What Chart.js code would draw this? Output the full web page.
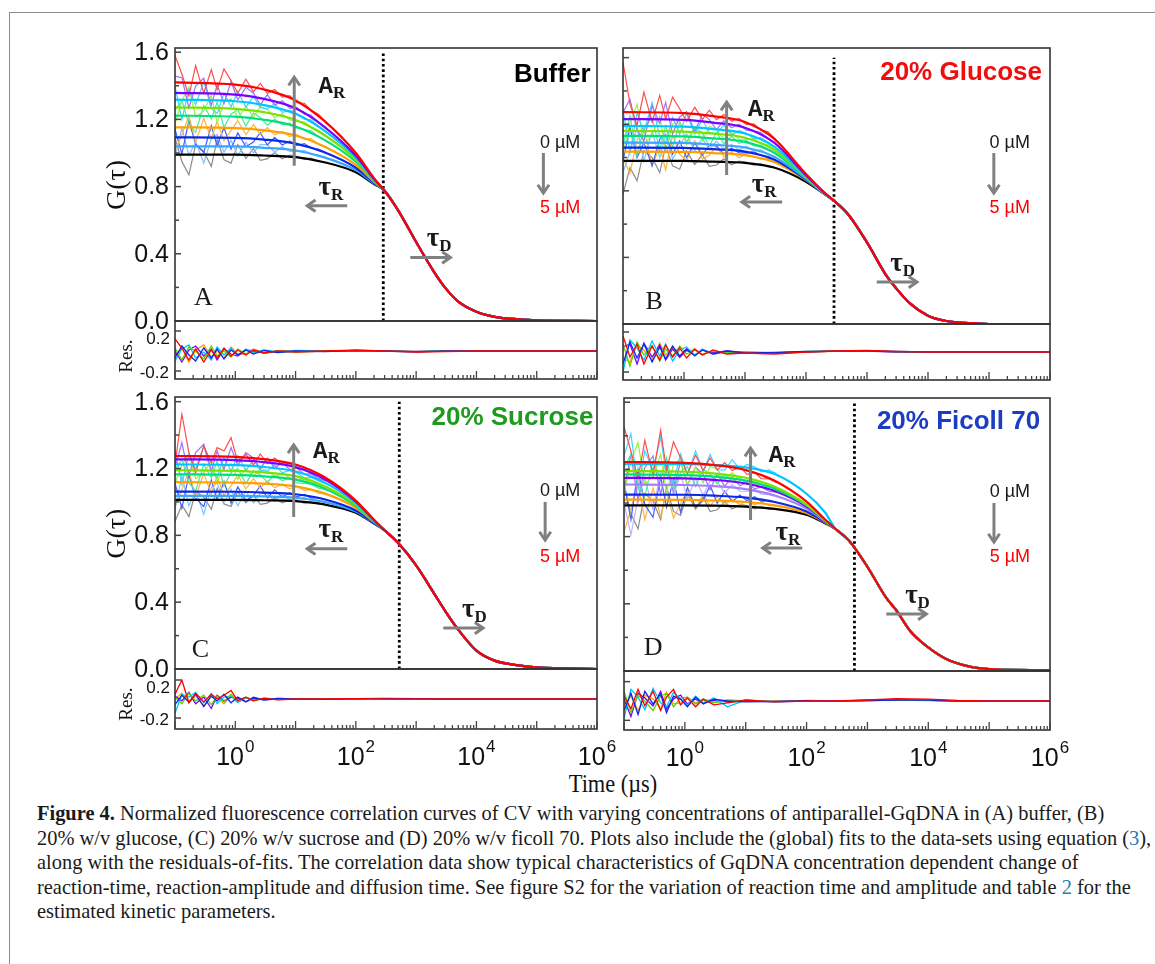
<!DOCTYPE html>
<html>
<head>
<meta charset="utf-8">
<script src="https://cdn.jsdelivr.net/npm/chart.js@4.4.1/dist/chart.umd.min.js"></script>
<style>
body { margin: 0; background: #fff; }
#page { position: relative; width: 1155px; height: 964px; overflow: hidden; background: #fff; }
#frame { position: absolute; left: 9px; top: 12px; width: 1200px; height: 1000px; border-left: 1.5px solid #8c8c8c; border-top: 1.5px solid #8c8c8c; }
canvas { position: absolute; }
#xtitle { position: absolute; left: 513px; top: 769px; width: 200px; text-align: center; font: 26px "Liberation Serif"; color: #111; transform: scaleX(0.86); }
#caption { position: absolute; left: 37px; top: 801px; font: 22px/24.5px "Liberation Serif"; color: #1a1a1a; white-space: nowrap; transform-origin: 0 0; transform: scaleX(0.928); }
#caption a { color: #2a7ab5; text-decoration: none; }
</style>
</head>
<body>
<div id="page">
<div id="frame"></div>
<div id="xtitle">Time (µs)</div>
<div id="caption"><b>Figure 4.</b> Normalized fluorescence correlation curves of CV with varying concentrations of antiparallel-GqDNA in (A) buffer, (B)<br>20% w/v glucose, (C) 20% w/v sucrose and (D) 20% w/v ficoll 70. Plots also include the (global) fits to the data-sets using equation (<a>3</a>),<br>along with the residuals-of-fits. The correlation data show typical characteristics of GqDNA concentration dependent change of<br>reaction-time, reaction-amplitude and diffusion time. See figure S2 for the variation of reaction time and amplitude and table <a>2</a> for the<br>estimated kinetic parameters.</div>
</div>
<script>
// time grids (µs)
var headTau = [0.1, 1, 3, 10, 30, 100, 200];
var tailTau = [300, 500, 1000, 2000, 3000, 5000, 10000, 20000, 50000, 100000, 1000000];
var dataTau = [0.1, 0.13, 0.17, 0.22, 0.3, 0.4, 0.5, 0.65, 0.85, 1.1, 1.5, 2, 2.6, 3.4, 4.5, 6, 8, 10.5, 14, 18, 24, 32];
var resTau = [0.1, 0.13, 0.17, 0.22, 0.3, 0.4, 0.5, 0.65, 0.85, 1.1, 1.5, 2, 3, 5, 10, 30, 100, 300, 1000, 3000, 10000, 30000, 100000, 1000000];

// ---- panel A : buffer (red, purple, cyan, green, spring, orange, blue, sky, black)
var fitHeadA = [
  [1.420, 1.407, 1.378, 1.313, 1.191, 1.000, 0.850],
  [1.358, 1.347, 1.322, 1.266, 1.156, 0.984, 0.845],
  [1.318, 1.308, 1.285, 1.233, 1.133, 0.973, 0.842],
  [1.272, 1.263, 1.243, 1.197, 1.107, 0.961, 0.839],
  [1.223, 1.216, 1.198, 1.158, 1.078, 0.948, 0.835],
  [1.153, 1.148, 1.135, 1.104, 1.039, 0.929, 0.829],
  [1.093, 1.090, 1.080, 1.056, 1.004, 0.912, 0.823],
  [1.040, 1.039, 1.031, 1.015, 0.974, 0.898, 0.819],
  [0.990, 0.990, 0.985, 0.975, 0.945, 0.885, 0.815]];
var fitTailA = [0.775, 0.66, 0.47, 0.29, 0.20, 0.115, 0.055, 0.025, 0.01, 0.004, 0.0];
var dataA = [
  [1.58, 1.47, 1.34, 1.52, 1.356, 1.496, 1.376, 1.501, 1.431, 1.357, 1.439, 1.364, 1.414, 1.354, 1.378, 1.333, 1.341, 1.299, 1.296, 1.254, 1.230, 1.184],
  [1.458, 1.448, 1.268, 1.398, 1.445, 1.285, 1.405, 1.295, 1.425, 1.317, 1.391, 1.356, 1.287, 1.348, 1.285, 1.311, 1.266, 1.271, 1.231, 1.226, 1.182, 1.150],
  [1.398, 1.198, 1.378, 1.288, 1.425, 1.265, 1.235, 1.355, 1.275, 1.368, 1.272, 1.337, 1.270, 1.262, 1.294, 1.242, 1.253, 1.235, 1.201, 1.197, 1.161, 1.127],
  [1.172, 1.312, 1.392, 1.212, 1.252, 1.342, 1.182, 1.302, 1.322, 1.204, 1.278, 1.214, 1.277, 1.260, 1.210, 1.234, 1.197, 1.189, 1.185, 1.155, 1.136, 1.101],
  [1.253, 1.313, 1.173, 1.123, 1.283, 1.203, 1.303, 1.153, 1.233, 1.256, 1.161, 1.237, 1.211, 1.166, 1.201, 1.167, 1.178, 1.148, 1.141, 1.132, 1.097, 1.074],
  [1.013, 1.108, 1.223, 1.063, 1.208, 1.083, 1.188, 1.073, 1.133, 1.193, 1.109, 1.169, 1.110, 1.151, 1.108, 1.128, 1.097, 1.111, 1.081, 1.085, 1.052, 1.035],
  [1.143, 0.993, 1.193, 1.053, 1.003, 1.163, 1.043, 1.153, 1.023, 1.120, 1.037, 1.065, 1.121, 1.048, 1.093, 1.048, 1.071, 1.045, 1.056, 1.030, 1.024, 1.001],
  [0.970, 1.150, 0.985, 1.067, 0.940, 1.085, 1.110, 1.005, 1.075, 0.984, 1.063, 1.000, 1.051, 1.049, 1.005, 1.037, 1.010, 1.009, 1.016, 0.995, 0.987, 0.971],
  [1.09, 0.95, 0.87, 1.05, 1.01, 0.92, 1.08, 0.96, 0.94, 1.05, 0.968, 1.027, 0.956, 0.965, 1.003, 0.966, 0.988, 0.980, 0.962, 0.970, 0.951, 0.943]];
var resA = [
  [0.12, 0.03, -0.09, 0.02, -0.11, 0.01, -0.07, 0.03, -0.05, 0.01, -0.04, 0.01, -0.02, 0.0, -0.01, 0.0, 0.008, 0.0, -0.01, -0.005, 0.0, 0.0, 0.0, 0.0],
  [-0.07, 0.05, -0.04, -0.10, 0.03, -0.07, 0.02, -0.08, 0.01, -0.04, 0.01, -0.03, 0.005, -0.015, 0.0, -0.005, 0.005, 0.0, -0.008, 0.0, 0.0, 0.0, 0.0, 0.0],
  [0.03, -0.09, 0.04, 0.0, -0.08, 0.05, -0.05, 0.0, -0.06, 0.02, -0.03, 0.01, -0.02, 0.0, -0.01, 0.0, 0.006, 0.0, -0.006, 0.0, 0.0, 0.0, 0.0, 0.0],
  [-0.10, 0.02, 0.06, -0.07, -0.01, -0.09, 0.04, -0.04, 0.03, -0.04, 0.02, -0.02, 0.01, -0.01, 0.0, 0.004, 0.004, -0.004, -0.006, 0.0, 0.003, 0.0, 0.0, 0.0],
  [0.0, -0.11, 0.01, 0.05, -0.05, 0.02, -0.09, 0.02, -0.03, -0.05, 0.01, 0.0, -0.02, 0.0, -0.005, -0.004, 0.005, 0.0, -0.005, 0.0, 0.0, 0.0, 0.0, 0.0],
  [-0.05, 0.03, -0.11, 0.01, 0.06, -0.06, 0.0, -0.07, 0.04, -0.03, -0.03, 0.02, -0.015, -0.005, 0.005, 0.0, 0.004, 0.0, -0.004, 0.0, 0.0, 0.0, 0.0, 0.0]];

// ---- panel B : 20% glucose (red, purple, cyan, green, spring, sky, blue, orange, black)
var fitHeadB = [
  [1.273, 1.267, 1.249, 1.214, 1.114, 0.901, 0.789],
  [1.231, 1.226, 1.210, 1.179, 1.089, 0.894, 0.788],
  [1.190, 1.186, 1.171, 1.144, 1.065, 0.888, 0.787],
  [1.160, 1.156, 1.144, 1.119, 1.047, 0.883, 0.785],
  [1.130, 1.127, 1.115, 1.094, 1.029, 0.879, 0.785],
  [1.090, 1.088, 1.077, 1.060, 1.005, 0.872, 0.783],
  [1.060, 1.058, 1.050, 1.036, 0.988, 0.868, 0.782],
  [1.035, 1.034, 1.027, 1.014, 0.973, 0.864, 0.782],
  [0.980, 0.980, 0.975, 0.968, 0.940, 0.855, 0.780]];
var fitTailB = [0.735, 0.655, 0.49, 0.30, 0.215, 0.125, 0.05, 0.018, 0.005, 0.0, -0.004];
var dataB = [
  [1.573, 1.323, 1.193, 1.393, 1.213, 1.373, 1.233, 1.363, 1.293, 1.217, 1.303, 1.229, 1.284, 1.228, 1.259, 1.219, 1.235, 1.198, 1.202, 1.166, 1.154, 1.109],
  [1.271, 1.351, 1.166, 1.101, 1.311, 1.205, 1.331, 1.141, 1.244, 1.276, 1.157, 1.258, 1.228, 1.168, 1.221, 1.179, 1.200, 1.164, 1.159, 1.151, 1.115, 1.084],
  [1.29, 1.03, 1.27, 1.15, 1.33, 1.125, 1.09, 1.24, 1.14, 1.265, 1.142, 1.229, 1.150, 1.144, 1.196, 1.136, 1.161, 1.146, 1.114, 1.119, 1.092, 1.060],
  [1.03, 1.21, 1.32, 1.08, 1.134, 1.25, 1.04, 1.20, 1.225, 1.077, 1.180, 1.101, 1.188, 1.169, 1.111, 1.150, 1.110, 1.109, 1.114, 1.085, 1.077, 1.043],
  [1.07, 1.25, 1.01, 1.18, 1.24, 1.045, 1.19, 1.06, 1.215, 1.092, 1.184, 1.147, 1.069, 1.150, 1.084, 1.128, 1.085, 1.102, 1.068, 1.075, 1.047, 1.026],
  [0.91, 1.035, 1.18, 0.98, 1.155, 1.00, 1.135, 0.99, 1.068, 1.143, 1.040, 1.116, 1.048, 1.099, 1.051, 1.079, 1.047, 1.068, 1.037, 1.047, 1.018, 1.002],
  [0.98, 1.18, 1.00, 1.09, 0.95, 1.11, 1.14, 1.02, 1.10, 0.999, 1.087, 1.015, 1.073, 1.070, 1.021, 1.057, 1.028, 1.028, 1.035, 1.012, 1.005, 0.985],
  [0.995, 0.905, 1.105, 1.175, 0.95, 1.065, 0.925, 1.135, 1.02, 0.979, 1.102, 0.991, 1.014, 1.066, 1.003, 1.034, 0.999, 1.022, 1.005, 0.990, 0.993, 0.970],
  [0.78, 0.94, 0.86, 1.04, 1.00, 0.91, 1.07, 0.95, 0.93, 1.04, 0.959, 1.018, 0.947, 0.955, 0.993, 0.956, 0.979, 0.971, 0.954, 0.962, 0.946, 0.938]];
var resB = [
  [0.16, -0.05, 0.08, -0.12, 0.06, -0.08, 0.07, -0.05, 0.04, -0.06, 0.03, -0.03, 0.02, -0.02, -0.01, -0.02, 0.0, 0.01, 0.015, 0.005, 0.0, 0.0, 0.0, 0.0],
  [-0.12, 0.10, -0.06, 0.08, -0.10, 0.05, -0.07, 0.06, -0.04, 0.03, -0.04, 0.02, -0.02, 0.01, -0.01, -0.005, 0.005, 0.008, 0.01, 0.005, 0.0, 0.0, 0.0, 0.0],
  [0.08, -0.14, 0.10, -0.03, 0.06, -0.09, 0.03, -0.04, 0.06, -0.02, 0.02, -0.03, 0.01, -0.01, 0.0, -0.01, 0.005, 0.01, 0.012, 0.003, 0.0, 0.0, 0.0, 0.0],
  [-0.20, 0.12, 0.04, -0.08, 0.11, -0.04, 0.08, -0.09, 0.02, 0.05, -0.03, 0.03, -0.02, 0.0, -0.01, -0.01, 0.003, 0.006, 0.008, 0.004, 0.0, -0.003, 0.0, 0.0],
  [0.05, 0.08, -0.12, 0.09, -0.05, 0.07, -0.08, 0.03, -0.05, 0.02, -0.03, 0.02, -0.01, 0.01, -0.005, -0.01, 0.0, 0.008, 0.01, 0.0, 0.0, 0.0, 0.0, 0.0],
  [-0.06, -0.10, 0.07, 0.02, -0.08, 0.09, -0.03, 0.05, -0.06, 0.01, 0.02, -0.02, 0.01, -0.01, 0.0, -0.008, 0.0, 0.006, 0.008, 0.002, 0.0, 0.0, 0.0, 0.0]];

// ---- panel C : 20% sucrose (red, purple, cyan, green, spring, orange, blue, sky, black)
var fitHeadC = [
  [1.275, 1.270, 1.256, 1.224, 1.149, 1.008, 0.893],
  [1.255, 1.250, 1.238, 1.208, 1.137, 1.002, 0.891],
  [1.225, 1.220, 1.209, 1.182, 1.117, 0.994, 0.888],
  [1.190, 1.186, 1.177, 1.154, 1.096, 0.985, 0.886],
  [1.165, 1.162, 1.153, 1.133, 1.081, 0.977, 0.883],
  [1.118, 1.116, 1.110, 1.093, 1.051, 0.965, 0.880],
  [1.062, 1.061, 1.056, 1.046, 1.016, 0.949, 0.874],
  [1.036, 1.036, 1.033, 1.025, 1.000, 0.942, 0.872],
  [1.012, 1.012, 1.010, 1.005, 0.985, 0.935, 0.870]];
var fitTailC = [0.83, 0.755, 0.62, 0.45, 0.35, 0.235, 0.11, 0.05, 0.022, 0.01, 0.0];
var dataC = [
  [1.225, 1.525, 1.295, 1.175, 1.335, 1.235, 1.325, 1.305, 1.385, 1.239, 1.285, 1.222, 1.287, 1.230, 1.263, 1.222, 1.233, 1.200, 1.197, 1.171, 1.160, 1.137],
  [1.205, 1.355, 1.155, 1.295, 1.345, 1.185, 1.305, 1.195, 1.325, 1.219, 1.295, 1.263, 1.198, 1.262, 1.204, 1.235, 1.194, 1.202, 1.166, 1.168, 1.141, 1.126],
  [1.305, 1.105, 1.285, 1.195, 1.335, 1.175, 1.145, 1.265, 1.185, 1.279, 1.186, 1.254, 1.189, 1.184, 1.222, 1.174, 1.189, 1.173, 1.144, 1.146, 1.125, 1.108],
  [1.11, 1.22, 1.29, 1.14, 1.174, 1.246, 1.12, 1.214, 1.23, 1.136, 1.199, 1.151, 1.201, 1.188, 1.151, 1.171, 1.143, 1.137, 1.135, 1.114, 1.106, 1.088],
  [1.195, 1.255, 1.115, 1.065, 1.225, 1.145, 1.245, 1.095, 1.175, 1.201, 1.108, 1.187, 1.163, 1.119, 1.159, 1.127, 1.142, 1.114, 1.111, 1.106, 1.083, 1.073],
  [0.978, 1.073, 1.188, 1.028, 1.173, 1.048, 1.153, 1.038, 1.098, 1.161, 1.078, 1.139, 1.083, 1.124, 1.085, 1.106, 1.078, 1.094, 1.068, 1.075, 1.053, 1.046],
  [1.112, 0.962, 1.162, 1.022, 0.972, 1.132, 1.012, 1.122, 0.992, 1.090, 1.009, 1.038, 1.096, 1.024, 1.072, 1.029, 1.055, 1.031, 1.045, 1.023, 1.026, 1.013],
  [0.956, 1.156, 0.976, 1.066, 0.926, 1.086, 1.116, 0.996, 1.076, 0.976, 1.064, 0.994, 1.053, 1.051, 1.005, 1.042, 1.014, 1.016, 1.027, 1.007, 1.005, 0.998],
  [0.882, 0.982, 0.912, 1.062, 1.028, 0.956, 1.082, 0.988, 0.972, 1.062, 0.995, 1.041, 0.986, 0.993, 1.024, 0.994, 1.012, 1.006, 0.993, 0.999, 0.987, 0.984]];
var resC = [
  [0.05, 0.20, -0.04, 0.06, -0.03, 0.05, 0.0, 0.04, 0.09, -0.02, 0.02, -0.02, 0.01, -0.01, 0.0, 0.0, 0.005, 0.0, 0.0, 0.0, 0.0, 0.0, 0.0, 0.0],
  [-0.06, 0.04, -0.03, 0.05, -0.08, 0.03, -0.02, 0.05, -0.04, 0.02, -0.03, 0.01, -0.01, 0.005, 0.0, -0.004, 0.004, 0.006, 0.004, 0.0, 0.0, 0.0, 0.0, 0.0],
  [0.02, -0.05, 0.06, -0.02, 0.04, -0.06, 0.03, -0.03, 0.05, -0.02, 0.02, -0.02, 0.01, 0.0, -0.005, 0.0, 0.003, 0.004, 0.0, 0.0, 0.0, 0.0, 0.0, 0.0],
  [-0.15, 0.05, 0.02, 0.07, -0.04, 0.06, -0.05, 0.02, 0.03, -0.04, 0.01, 0.0, -0.01, 0.005, 0.0, 0.0, 0.003, 0.005, 0.003, 0.0, -0.002, 0.0, 0.0, 0.0],
  [0.03, -0.02, 0.07, -0.05, 0.02, -0.10, 0.04, -0.02, 0.02, 0.01, -0.03, 0.02, -0.01, 0.0, 0.0, 0.0, 0.0, 0.004, 0.002, 0.0, 0.0, 0.0, 0.0, 0.0],
  [0.0, 0.06, -0.04, 0.03, -0.07, 0.04, 0.02, -0.05, 0.03, -0.01, 0.02, -0.01, 0.005, 0.0, 0.0, 0.0, 0.0, 0.0, 0.0, 0.0, 0.0, 0.0, 0.0, 0.0]];

// ---- panel D : 20% ficoll 70 (red, cyan, green, spring, purple, lavender, blue, orange, black)
var fitHeadD = [
  [1.244, 1.239, 1.226, 1.196, 1.132, 1.008, 0.903],
  [1.232, 1.231, 1.226, 1.212, 1.172, 1.055, 0.945],
  [1.190, 1.186, 1.176, 1.150, 1.097, 0.991, 0.898],
  [1.170, 1.166, 1.157, 1.133, 1.084, 0.986, 0.897],
  [1.150, 1.147, 1.138, 1.116, 1.071, 0.979, 0.895],
  [1.110, 1.107, 1.100, 1.083, 1.045, 0.967, 0.891],
  [1.050, 1.049, 1.044, 1.032, 1.006, 0.950, 0.886],
  [1.020, 1.019, 1.015, 1.006, 0.986, 0.940, 0.883],
  [0.986, 0.986, 0.984, 0.978, 0.965, 0.930, 0.880]];
var fitTailD = [0.845, 0.775, 0.62, 0.44, 0.36, 0.24, 0.14, 0.07, 0.025, 0.012, 0.005];
var dataD = [
  [1.454, 1.309, 1.144, 1.374, 1.164, 1.434, 1.194, 1.364, 1.27, 1.173, 1.285, 1.192, 1.268, 1.196, 1.241, 1.193, 1.216, 1.170, 1.182, 1.145, 1.144, 1.121],
  [1.282, 1.412, 1.082, 1.312, 1.192, 1.392, 1.162, 1.122, 1.292, 1.171, 1.310, 1.190, 1.289, 1.198, 1.196, 1.258, 1.200, 1.229, 1.215, 1.186, 1.197, 1.176],
  [1.05, 1.25, 1.36, 1.11, 1.16, 1.29, 1.06, 1.23, 1.26, 1.105, 1.213, 1.120, 1.217, 1.202, 1.136, 1.179, 1.136, 1.133, 1.139, 1.110, 1.108, 1.088],
  [1.21, 1.29, 1.105, 1.04, 1.25, 1.144, 1.27, 1.08, 1.183, 1.216, 1.099, 1.201, 1.171, 1.114, 1.168, 1.129, 1.150, 1.114, 1.114, 1.111, 1.084, 1.076],
  [1.08, 1.29, 1.01, 1.21, 1.28, 1.05, 1.22, 1.07, 1.25, 1.106, 1.214, 1.171, 1.079, 1.175, 1.100, 1.154, 1.103, 1.122, 1.084, 1.096, 1.070, 1.063],
  [1.00, 0.81, 1.03, 1.15, 0.96, 1.18, 1.22, 1.05, 1.17, 1.027, 1.146, 1.044, 1.132, 1.129, 1.060, 1.110, 1.070, 1.070, 1.082, 1.053, 1.050, 1.039],
  [1.125, 0.90, 1.20, 0.99, 0.915, 1.155, 0.975, 1.14, 0.945, 1.093, 0.973, 1.016, 1.105, 0.998, 1.071, 1.008, 1.048, 1.014, 1.038, 1.009, 1.016, 1.003],
  [0.83, 0.96, 1.12, 0.90, 1.09, 0.92, 1.07, 0.91, 0.996, 1.079, 0.968, 1.053, 0.980, 1.039, 0.989, 1.023, 0.990, 1.017, 0.988, 1.006, 0.984, 0.984],
  [1.106, 0.936, 0.846, 1.056, 1.01, 0.901, 1.096, 0.95, 0.926, 1.056, 0.962, 1.035, 0.949, 0.960, 1.007, 0.964, 0.992, 0.984, 0.965, 0.978, 0.963, 0.964]];
var resD = [
  [0.05, -0.08, 0.12, -0.05, 0.10, -0.10, 0.04, 0.12, -0.04, 0.03, -0.06, 0.02, -0.04, -0.02, 0.01, -0.01, 0.0, 0.0, 0.01, 0.025, 0.02, 0.005, 0.0, 0.0],
  [-0.10, 0.08, -0.14, 0.10, -0.03, 0.07, -0.12, 0.05, 0.02, -0.06, 0.04, -0.03, 0.02, 0.0, -0.01, -0.005, 0.003, 0.0, 0.005, 0.01, 0.008, 0.0, 0.0, 0.0],
  [0.10, -0.12, 0.06, 0.0, -0.10, 0.05, 0.08, -0.06, 0.03, 0.04, -0.03, 0.01, -0.02, 0.01, 0.0, -0.005, 0.0, 0.0, 0.006, 0.012, 0.01, 0.0, 0.0, 0.0],
  [-0.18, 0.12, 0.04, -0.09, 0.13, -0.02, -0.06, 0.09, 0.02, -0.04, 0.05, -0.02, 0.03, -0.06, 0.01, -0.01, 0.005, 0.0, 0.006, 0.012, 0.01, 0.0, -0.003, 0.0],
  [0.02, -0.16, 0.08, 0.03, -0.05, 0.10, -0.08, 0.02, 0.06, -0.03, 0.02, -0.02, 0.01, -0.01, 0.0, -0.008, 0.0, 0.0, 0.005, 0.01, 0.006, 0.0, 0.0, 0.0],
  [-0.04, 0.05, -0.10, 0.06, 0.02, -0.08, 0.09, -0.03, -0.02, 0.04, -0.02, 0.02, -0.01, 0.0, -0.005, 0.0, 0.0, 0.0, 0.004, 0.008, 0.004, 0.0, 0.0, 0.0]];

// colours (fit / raw data)
var RED = ['#ff0000', '#ff4d4d'], PURPLE = ['#7a00ff', '#a070ff'], CYAN = ['#00c4ff', '#40d4ff'],
    GREEN = ['#7ce000', '#9cf040'], SPRING = ['#00e07a', '#40eea0'], ORANGE = ['#ff9f00', '#ffb440'],
    BLUE = ['#0a28e6', '#4060ff'], SKY = ['#3aa4ff', '#80c4ff'], BLACK = ['#000000', '#8c8c8c'],
    LAVENDER = ['#a080ff', '#c4b0ff'];
var colsA = [RED, PURPLE, CYAN, GREEN, SPRING, ORANGE, BLUE, SKY, BLACK];
var colsB = [RED, PURPLE, CYAN, GREEN, SPRING, SKY, BLUE, ORANGE, BLACK];
var colsD = [RED, CYAN, GREEN, SPRING, PURPLE, LAVENDER, BLUE, ORANGE, BLACK];
var resCols = ['#ff0000', '#0a28e6', '#60d000', '#00c4ff', '#7a00ff', '#ff9f00'];

var panels = [
  { head: fitHeadA, tail: fitTailA, noisy: dataA, res: resA, cols: colsA,
    box: [175, 48, 597, 321], resBox: [321, 379], yMax: 1.625, rRange: [-0.28, 0.30],
    yLabels: true, xLabels: false, dot: 285,
    title: 'Buffer', titleColor: '#000', titleAt: [7.8e5, 1.464], letter: 'A', letterAt: [0.295, 0.137],
    arA: [9.5, 0.924, 1.451], arLab: [24, 1.40], trA: [0.686, 72, 15.6], trLab: [24, 0.79],
    tdA: [0.378, 800, 3700], tdLab: [1500, 0.49], mu: [2.45e5, 1.06, 1.29e5, 1.0, 0.762, 0.673] },
  { head: fitHeadB, tail: fitTailB, noisy: dataB, res: resB, cols: colsB,
    box: [623, 48, 1050, 324], resBox: [324, 380], yMax: 1.658, rRange: [-0.28, 0.28],
    yLabels: false, xLabels: false, dot: 288,
    title: '20% Glucose', titleColor: '#f20d0d', titleAt: [7.4e5, 1.51], letter: 'B', letterAt: [0.324, 0.132],
    arA: [5.0, 0.895, 1.333], arLab: [11.2, 1.29], trA: [0.733, 40.7, 8.9], trLab: [12.9, 0.835],
    tdA: [0.252, 1445, 6600], tdLab: [2400, 0.36], mu: [2.19e5, 1.087, 1.2e5, 1.027, 0.787, 0.697] },
  { head: fitHeadC, tail: fitTailC, noisy: dataC, res: resC, cols: colsA,
    box: [175, 397, 597, 669], resBox: [669, 729], yMax: 1.628, rRange: [-0.316, 0.316],
    yLabels: true, xLabels: true, dot: 525,
    title: '20% Sucrose', titleColor: '#1e9b1e', titleAt: [8.7e5, 1.503], letter: 'C', letterAt: [0.263, 0.114],
    arA: [9.3, 0.91, 1.341], arLab: [19.5, 1.305], trA: [0.719, 72, 15.6], trLab: [24, 0.832],
    tdA: [0.245, 2820, 12900], tdLab: [5750, 0.353], mu: [2.45e5, 1.066, 1.38e5, 1.0, 0.772, 0.671] },
  { head: fitHeadD, tail: fitTailD, noisy: dataD, res: resD, cols: colsD,
    box: [624, 398, 1050, 671], resBox: [671, 730], yMax: 1.625, rRange: [-0.30, 0.31],
    yLabels: false, xLabels: true, dot: 612,
    title: '20% Ficoll 70', titleColor: '#1c3cc4', titleAt: [6.9e5, 1.482], letter: 'D', letterAt: [0.30, 0.137],
    arA: [12, 0.899, 1.327], arLab: [24, 1.286], trA: [0.732, 85, 19], trLab: [31, 0.821],
    tdA: [0.339, 2040, 9300], tdLab: [4170, 0.446], mu: [2.19e5, 1.065, 1.2e5, 1.0, 0.768, 0.679] }
];

function makeCanvas(l, t, r, b, pad) {
  var c = document.createElement('canvas');
  var w = r - l + pad.left + pad.right, h = b - t + pad.top + pad.bottom;
  c.width = w; c.height = h;
  c.style.left = (l - pad.left) + 'px'; c.style.top = (t - pad.top) + 'px';
  c.style.width = w + 'px'; c.style.height = h + 'px';
  document.getElementById('page').appendChild(c);
  return c.getContext('2d');
}

function pts(xs, ys) {
  return xs.map(function (t, k) { return { x: t, y: ys[k] }; });
}

function arrow(ctx, x0, y0, x1, y1) {
  var a = Math.atan2(y1 - y0, x1 - x0), hl = 10, hw = 0.6;
  ctx.save();
  ctx.strokeStyle = '#808080'; ctx.lineWidth = 3; ctx.lineCap = 'butt'; ctx.lineJoin = 'miter';
  ctx.beginPath(); ctx.moveTo(x0, y0); ctx.lineTo(x1, y1); ctx.stroke();
  ctx.beginPath();
  ctx.moveTo(x1 - hl * Math.cos(a - hw), y1 - hl * Math.sin(a - hw));
  ctx.lineTo(x1, y1);
  ctx.lineTo(x1 - hl * Math.cos(a + hw), y1 - hl * Math.sin(a + hw));
  ctx.stroke();
  ctx.restore();
}

function subLabel(ctx, x, y, main, sub, mainFont, subFont) {
  ctx.textAlign = 'left'; ctx.textBaseline = 'alphabetic'; ctx.fillStyle = '#1a1a1a';
  ctx.font = mainFont; ctx.fillText(main, x, y + 7);
  var w = ctx.measureText(main).width;
  ctx.font = subFont; ctx.fillText(sub, x + w, y + 12);
}

function frame(ctx, a) {
  ctx.save();
  ctx.strokeStyle = '#333'; ctx.lineWidth = 1.6;
  ctx.strokeRect(a.left, a.top, a.right - a.left, a.bottom - a.top);
  ctx.restore();
}

function mainDeco(p) {
  return {
    id: 'mainDeco',
    beforeDatasetsDraw: function (chart) {
      var ctx = chart.ctx, xs = chart.scales.x, ys = chart.scales.y;
      var x = xs.getPixelForValue(p.dot);
      ctx.save();
      ctx.strokeStyle = '#000'; ctx.lineWidth = 2.8; ctx.setLineDash([2.6, 2.7]);
      ctx.beginPath(); ctx.moveTo(x, ys.getPixelForValue(0)); ctx.lineTo(x, ys.getPixelForValue(1.6)); ctx.stroke();
      ctx.restore();
    },
    afterDatasetsDraw: function (chart) {
      var ctx = chart.ctx, xs = chart.scales.x, ys = chart.scales.y, a = chart.chartArea;
      var X = function (v) { return xs.getPixelForValue(v); }, Y = function (v) { return ys.getPixelForValue(v); };
      frame(ctx, a);
      ctx.save();
      ctx.strokeStyle = '#444'; ctx.lineWidth = 1.5;
      for (var k = 0; k <= 8; k++) {
        var v = k * 0.2, len = (k % 2 === 0) ? 6 : 4;
        ctx.beginPath(); ctx.moveTo(a.left, Y(v)); ctx.lineTo(a.left + len, Y(v)); ctx.stroke();
      }
      if (p.yLabels) {
        ctx.fillStyle = '#111'; ctx.font = '25px "Liberation Sans"'; ctx.textAlign = 'right'; ctx.textBaseline = 'middle';
        for (var j = 0; j <= 4; j++) ctx.fillText((j * 0.4).toFixed(1), a.left - 6, Y(j * 0.4) + 1);
        ctx.save();
        ctx.translate(a.left - 57, Y(0.81)); ctx.rotate(-Math.PI / 2);
        ctx.font = '28px "Liberation Serif"'; ctx.textAlign = 'center'; ctx.textBaseline = 'middle';
        ctx.fillText('G(τ)', 0, 0);
        ctx.restore();
      }
      ctx.restore();
      // title
      ctx.save();
      ctx.font = 'bold 26px "Liberation Sans"'; ctx.fillStyle = p.titleColor; ctx.textAlign = 'right'; ctx.textBaseline = 'middle';
      ctx.fillText(p.title, X(p.titleAt[0]), Y(p.titleAt[1]));
      ctx.font = '26px "Liberation Serif"'; ctx.fillStyle = '#1a1a1a'; ctx.textAlign = 'center';
      ctx.fillText(p.letter, X(p.letterAt[0]), Y(p.letterAt[1]));
      // concentration arrow
      ctx.font = '18px "Liberation Sans"'; ctx.fillStyle = '#1a1a1a';
      ctx.fillText('0 µM', X(p.mu[0]), Y(p.mu[1]));
      ctx.fillStyle = '#f00';
      ctx.fillText('5 µM', X(p.mu[0]), Y(p.mu[5]));
      arrow(ctx, X(p.mu[2]), Y(p.mu[3]), X(p.mu[2]), Y(p.mu[4]));
      // amplitude / time arrows
      arrow(ctx, X(p.arA[0]), Y(p.arA[1]), X(p.arA[0]), Y(p.arA[2]));
      arrow(ctx, X(p.trA[1]), Y(p.trA[0]), X(p.trA[2]), Y(p.trA[0]));
      arrow(ctx, X(p.tdA[1]), Y(p.tdA[0]), X(p.tdA[2]), Y(p.tdA[0]));
      subLabel(ctx, X(p.arLab[0]), Y(p.arLab[1]), 'A', 'R', 'bold 24px "Liberation Mono"', 'bold 17px "Liberation Serif"');
      subLabel(ctx, X(p.trLab[0]), Y(p.trLab[1]), 'τ', 'R', 'bold 27px "Liberation Serif"', 'bold 17px "Liberation Serif"');
      subLabel(ctx, X(p.tdLab[0]), Y(p.tdLab[1]), 'τ', 'D', 'bold 27px "Liberation Serif"', 'bold 17px "Liberation Serif"');
      ctx.restore();
    }
  };
}

function resDeco(p) {
  return {
    id: 'resDeco',
    afterDatasetsDraw: function (chart) {
      var ctx = chart.ctx, xs = chart.scales.x, ys = chart.scales.y, a = chart.chartArea;
      frame(ctx, a);
      ctx.save();
      ctx.strokeStyle = '#444'; ctx.lineWidth = 1.5;
      [0.2, -0.2].forEach(function (v) {
        ctx.beginPath(); ctx.moveTo(a.left, ys.getPixelForValue(v)); ctx.lineTo(a.left + 6, ys.getPixelForValue(v)); ctx.stroke();
      });
      ctx.lineWidth = 1.3;
      for (var d = -1; d <= 6; d++) {
        for (var m = 1; m <= 9; m++) {
          var t = m * Math.pow(10, d);
          if (t > 1e6 * 1.0001) break;
          var x = xs.getPixelForValue(t), len = (m === 1) ? 8 : 4;
          ctx.beginPath(); ctx.moveTo(x, a.bottom); ctx.lineTo(x, a.bottom - len); ctx.stroke();
        }
      }
      if (p.yLabels) {
        ctx.fillStyle = '#111'; ctx.font = '17px "Liberation Sans"'; ctx.textAlign = 'right'; ctx.textBaseline = 'middle';
        ctx.fillText('0.2', a.left - 5, ys.getPixelForValue(0.2) + 8);
        ctx.fillText('-0.2', a.left - 6, ys.getPixelForValue(-0.2) + 2);
        ctx.save();
        ctx.translate(a.left - 48, ys.getPixelForValue(0) + 5); ctx.rotate(-Math.PI / 2);
        ctx.font = '19px "Liberation Serif"'; ctx.textAlign = 'center'; ctx.textBaseline = 'middle';
        ctx.fillText('Res.', 0, 0);
        ctx.restore();
      }
      if (p.xLabels) {
        ctx.fillStyle = '#111'; ctx.textBaseline = 'alphabetic'; ctx.textAlign = 'left';
        [0, 2, 4, 6].forEach(function (e) {
          var x = xs.getPixelForValue(Math.pow(10, e));
          ctx.font = '25px "Liberation Sans"';
          var w1 = ctx.measureText('10').width;
          ctx.font = '17px "Liberation Sans"';
          var w2 = ctx.measureText(String(e)).width;
          var left = x - (w1 + w2 + 1) / 2;
          ctx.font = '25px "Liberation Sans"'; ctx.fillText('10', left, a.bottom + 36);
          ctx.font = '17px "Liberation Sans"'; ctx.fillText(String(e), left + w1 + 1, a.bottom + 23);
        });
      }
      ctx.restore();
    }
  };
}

function baseOptions(pad, yMin, yMax) {
  return {
    responsive: false, animation: false, devicePixelRatio: 1, events: [],
    layout: { padding: pad },
    plugins: { legend: { display: false }, tooltip: { enabled: false } },
    elements: { point: { radius: 0 } },
    scales: {
      x: { type: 'logarithmic', min: 0.1, max: 1e6, display: false },
      y: { type: 'linear', min: yMin, max: yMax, display: false }
    }
  };
}

panels.forEach(function (p) {
  var b = p.box;
  // main correlation plot
  var padM = { left: 90, right: 8, top: 14, bottom: 14 };
  var sets = [];
  var fitTau = headTau.concat(tailTau);
  p.head.forEach(function (h, i) {
    sets.push({ data: pts(fitTau, h.concat(p.tail)), borderColor: p.cols[i][0], borderWidth: 2.2, cubicInterpolationMode: 'monotone', pointRadius: 0 });
  });
  p.noisy.forEach(function (n, i) {
    sets.push({ data: pts(dataTau, n), borderColor: p.cols[i][1], borderWidth: 1.2, tension: 0, pointRadius: 0 });
  });
  new Chart(makeCanvas(b[0], b[1], b[2], b[3], padM), {
    type: 'line', data: { datasets: sets },
    options: baseOptions(padM, 0, p.yMax),
    plugins: [mainDeco(p)]
  });
  // residuals
  var padR = { left: 90, right: 30, top: 6, bottom: 50 };
  var rs = p.res.map(function (r, i) {
    return { data: pts(resTau, r), borderColor: resCols[i], borderWidth: 1.3, tension: 0, pointRadius: 0 };
  });
  new Chart(makeCanvas(b[0], p.resBox[0], b[2], p.resBox[1], padR), {
    type: 'line', data: { datasets: rs },
    options: baseOptions(padR, p.rRange[0], p.rRange[1]),
    plugins: [resDeco(p)]
  });
});
</script>
</body>
</html>
